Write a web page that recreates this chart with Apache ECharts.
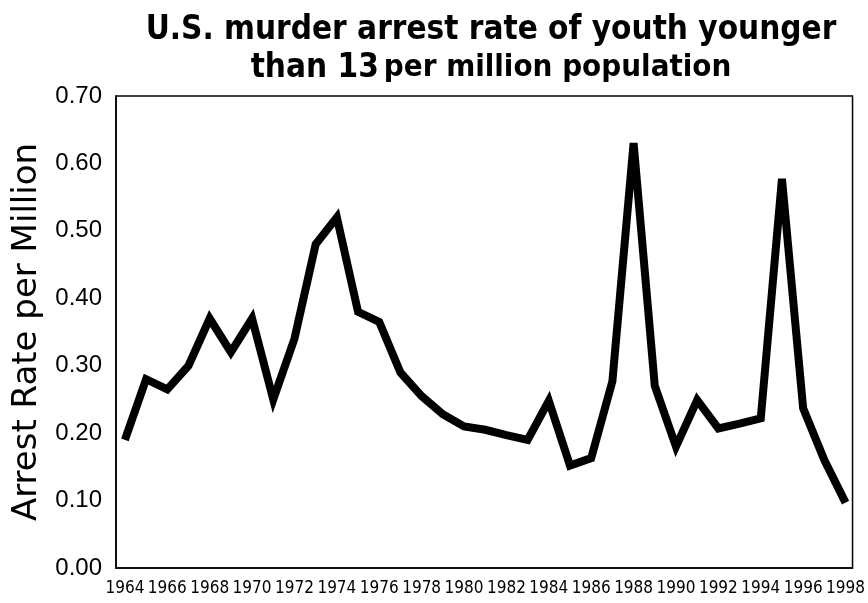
<!DOCTYPE html>
<html>
<head>
<meta charset="utf-8">
<script src="https://cdn.jsdelivr.net/npm/echarts@6/dist/echarts.min.js"></script>
<style>
html,body{margin:0;padding:0;background:#fff;}
#chart{width:868px;height:603px;}
</style>
</head>
<body>
<div id="chart"></div>
<script>
var years = [1964,1965,1966,1967,1968,1969,1970,1971,1972,1973,1974,1975,1976,1977,1978,1979,1980,1981,1982,1983,1984,1985,1986,1987,1988,1989,1990,1991,1992,1993,1994,1995,1996,1997,1998];
var rates = [0.19,0.28,0.265,0.30,0.37,0.32,0.37,0.25,0.34,0.48,0.52,0.38,0.365,0.29,0.255,0.228,0.21,0.205,0.197,0.19,0.248,0.152,0.163,0.277,0.63,0.27,0.18,0.249,0.207,0.214,0.222,0.577,0.237,0.16,0.097];
var yearLabels = [1964,1966,1968,1970,1972,1974,1976,1978,1980,1982,1984,1986,1988,1990,1992,1994,1996,1998];
var yTicks = [0,0.1,0.2,0.3,0.4,0.5,0.6,0.7];

var narrow = "'Liberation Sans Narrow','DejaVu Sans Condensed','Arial Narrow',sans-serif";
var chart = echarts.init(document.getElementById('chart'), null, {renderer:'canvas'});
var pts = years.map(function(y,i){return [y, rates[i]];});
chart.setOption({
  animation:false,
  backgroundColor:'#fff',
  title:{
    text:'{a|U.S. murder arrest rate of youth younger}\n{a|than 13} {b|per million population}',
    left:486, top:6, textAlign:'center',
    textStyle:{
      rich:{
        a:{fontFamily:narrow,fontWeight:'bold',fontSize:33,color:'#000',lineHeight:38},
        b:{fontFamily:narrow,fontWeight:'bold',fontSize:31,color:'#000',lineHeight:38}
      }
    }
  },
  grid:{left:116,right:8,top:96,bottom:35,show:true,borderColor:'#000',borderWidth:1.5,containLabel:false},
  xAxis:{
    type:'value', min:1963.58, max:1998.33,
    axisLine:{show:true,lineStyle:{color:'#000',width:1.5}},
    axisTick:{show:false},
    splitLine:{show:false},
    axisLabel:{customValues:yearLabels, color:'#000', fontFamily:narrow, fontSize:17, margin:12,
      formatter:function(v){return String(Math.round(v));}}
  },
  yAxis:{
    type:'value', min:0, max:0.7, interval:0.1,
    name:'Arrest Rate per Million', nameLocation:'middle', nameGap:71, nameRotate:90,
    nameTextStyle:{color:'#000',fontFamily:"'DejaVu Sans',sans-serif",fontSize:34},
    axisLine:{show:true,lineStyle:{color:'#000',width:1.5}},
    axisTick:{show:false},
    splitLine:{show:false},
    axisLabel:{color:'#000',fontFamily:"'Liberation Sans',Arial,sans-serif",fontSize:24,margin:14,
      formatter:function(v){return v.toFixed(2);}}
  },
  series:[{
    type:'line', data:pts, showSymbol:false, symbol:'none',
    lineStyle:{color:'#000',width:8,join:'miter',miterLimit:10}
  }]
});
</script>
</body>
</html>
